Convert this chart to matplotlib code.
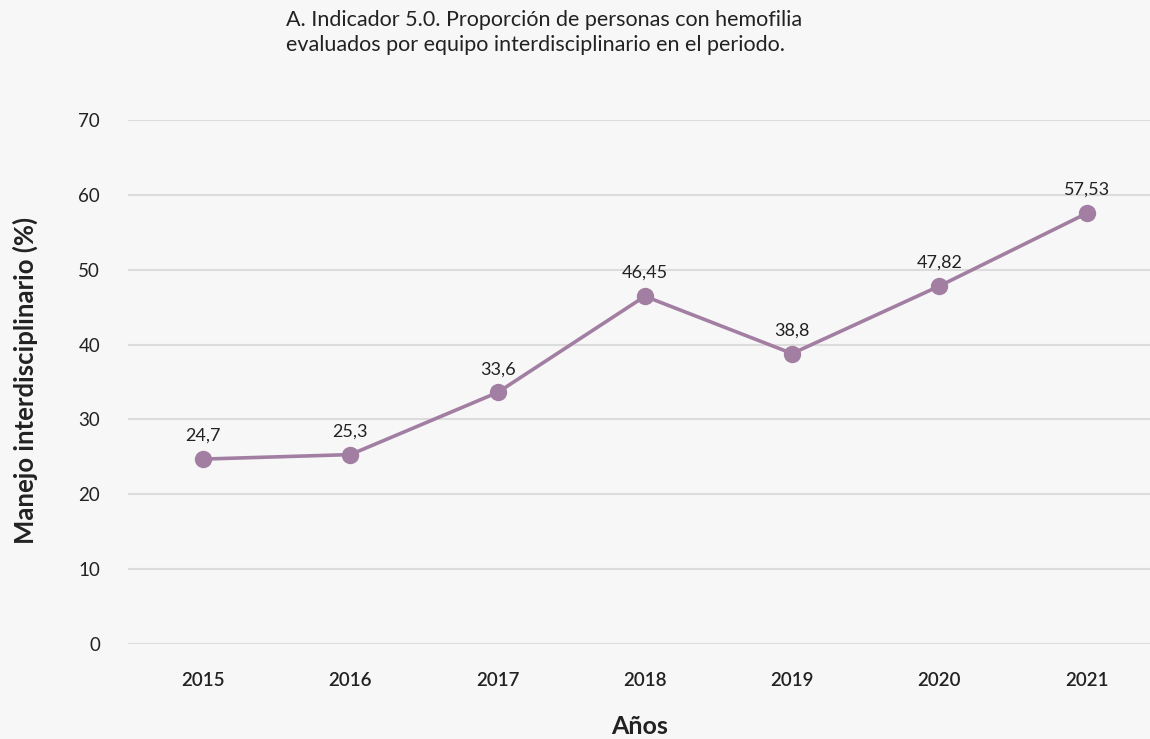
import matplotlib
matplotlib.use("Agg")
import matplotlib.pyplot as plt

# datos
years = ["2015", "2016", "2017", "2018", "2019", "2020", "2021"]
values = [24.7, 25.3, 33.6, 46.45, 38.8, 47.82, 57.53]
value_labels = ["24,7", "25,3", "33,6", "46,45", "38,8", "47,82", "57,53"]
y_ticks = [0, 10, 20, 30, 40, 50, 60, 70]
title_lines = ["A. Indicador 5.0. Proporción de personas con hemofilia",
               "evaluados por equipo interdisciplinario en el periodo."]

plt.rcParams['font.family'] = ['Lato', 'DejaVu Sans']

bg = '#f7f7f7'
line_color = '#a27fa2'
text_color = '#222222'

fig = plt.figure(figsize=(11.5, 7.39), dpi=100, facecolor=bg)
ax = fig.add_axes([0.1113, 0.1286, 0.8887, 0.709])
ax.set_facecolor(bg)

x = list(range(len(years)))
ax.plot(x, values, color=line_color, linewidth=2.6, marker='o', markersize=11.5, zorder=3)

for xi, v, lab in zip(x, values, value_labels):
    ax.annotate(lab, (xi, v), xytext=(0, 11), textcoords='offset points',
                ha='center', va='bottom', fontsize=13, color=text_color)

ax.set_xlim(-0.51, 6.43)
ax.set_ylim(0, 70)
ax.set_yticks(y_ticks)
ax.set_xticks(x)
ax.set_xticklabels(years, fontsize=13.5, fontweight='semibold', color=text_color)
ax.set_yticklabels([str(t) for t in y_ticks], fontsize=13.5, color=text_color)
ax.tick_params(axis='both', length=0)
ax.tick_params(axis='x', pad=20)
ax.tick_params(axis='y', pad=20)
ax.grid(axis='y', color='#dcdcdc', linewidth=1.5)
ax.set_axisbelow(True)
for s in ax.spines.values():
    s.set_visible(False)

fig.text(25 / 1150, 1 - 380 / 739, 'Manejo interdisciplinario (%)', rotation=90,
         ha='center', va='center', fontsize=18.5, fontweight='bold', color=text_color)
fig.text(640 / 1150, 1 - 727 / 739, 'Años', ha='center', va='center',
         fontsize=18, fontweight='bold', color=text_color)
for i, line in enumerate(title_lines):
    fig.text(286 / 1150, 1 - (20 + 25 * i) / 739, line, ha='left', va='center',
             fontsize=15.5, color=text_color)

fig.savefig('out.png', dpi=100, facecolor=bg)
